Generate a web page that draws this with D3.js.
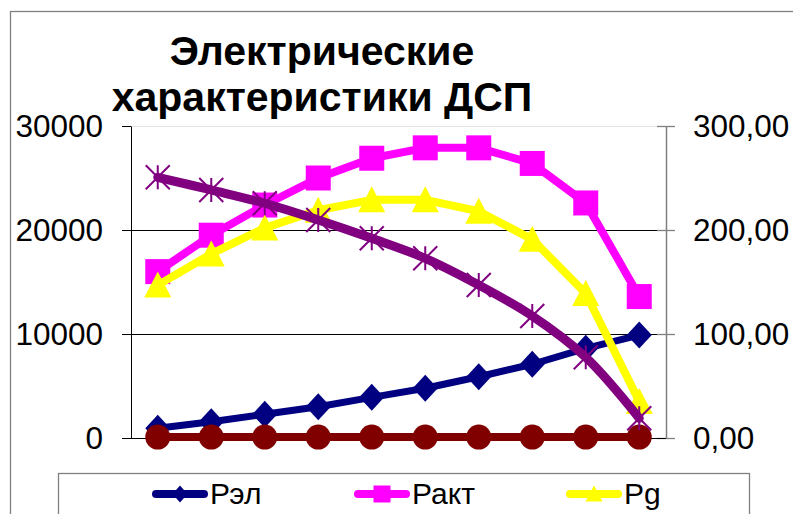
<!DOCTYPE html>
<html><head><meta charset="utf-8">
<script src="https://cdn.jsdelivr.net/npm/d3@7"></script>
<style>
html,body{margin:0;padding:0;background:#fff;}
svg{display:block;font-family:"Liberation Sans",Arial,sans-serif;}
</style></head>
<body><svg id="c" width="793" height="514"></svg>
<script>
const categories = [1,2,3,4,5,6,7,8,9,10];
const pEl   = [930, 1570, 2280, 3010, 3910, 4780, 5890, 7090, 8620, 9900];
const pAkt  = [16000, 19500, 22400, 25000, 26900, 27900, 27900, 26400, 22600, 13600];
const pG    = [14700, 17700, 20200, 21900, 22900, 22900, 21800, 19100, 13900, 3500];
const sPurple = [250.7, 238.5, 225.7, 209.6, 192.0, 172.8, 147.1, 117.3, 77.6, 19.0];
const sMaroon = [0.9, 0.9, 0.9, 0.9, 0.9, 0.9, 0.9, 0.9, 0.9, 0.9];
const leftTicks = [0, 10000, 20000, 30000];
const rightTicks = [0, 100, 200, 300];
const titleLines = ["Электрические", "характеристики ДСП"];
const legendNames = ["Рэл", "Ракт", "Pg"];

const svg = d3.select("#c");
svg.append("rect").attr("width",793).attr("height",514).attr("fill","#fff");
// chart area border
svg.append("rect").attr("x",10.5).attr("y",11.5).attr("width",820).attr("height",560)
  .attr("fill","none").attr("stroke","#808080").attr("stroke-width",1.3);

const x = d3.scalePoint().domain(categories).range([131,666]).padding(0.5);
const yL = d3.scaleLinear().domain([0,30000]).range([438,126]);
const yR = d3.scaleLinear().domain([0,300]).range([438,126]);

// faint top line & gridlines
const grid = svg.append("g");
grid.selectAll("line").data(leftTicks.filter(d=>d>0)).join("line")
  .attr("x1",131).attr("x2",666)
  .attr("y1",d=>Math.round(yL(d))+0.5).attr("y2",d=>Math.round(yL(d))+0.5)
  .attr("stroke",d=>d===30000?"#e4e4e4":"#000").attr("stroke-width",1);

// axes
const fmtR = d => d3.format(".2f")(d).replace(".",",");
const gL = svg.append("g").attr("transform","translate(131,0)")
  .call(d3.axisLeft(yL).tickValues(leftTicks).tickFormat(d3.format("d")).tickSize(9).tickSizeOuter(0).tickPadding(19));
gL.selectAll("text").attr("font-size",31.5).attr("fill","#000").attr("font-family","'Liberation Sans',Arial,sans-serif");
gL.select(".domain").attr("stroke","#000");
gL.selectAll(".tick line").attr("stroke","#000");

const gR = svg.append("g").attr("transform","translate(666,0)")
  .call(d3.axisRight(yR).tickValues(rightTicks).tickFormat(fmtR).tickSize(9).tickSizeOuter(0).tickPadding(18));
gR.selectAll("text").attr("font-size",31.5).attr("fill","#000").attr("font-family","'Liberation Sans',Arial,sans-serif");
gR.select(".domain").attr("stroke","#808080").attr("stroke-width",1.5);
gR.selectAll(".tick line").attr("x1",-9).attr("stroke","#808080").attr("stroke-width",1.3);

// category axis line
svg.append("line").attr("x1",131).attr("x2",666).attr("y1",438.5).attr("y2",438.5).attr("stroke","#000");

// series
const series = [
  {vals:pEl, y:yL, color:"#000080", marker:"diamond", curve:d3.curveLinear, w:7},
  {vals:pAkt, y:yL, color:"#FF00FF", marker:"square", curve:d3.curveLinear, w:8},
  {vals:pG, y:yL, color:"#FFFF00", marker:"triangle", curve:d3.curveLinear, w:8},
  {vals:sMaroon, y:yR, color:"#800000", marker:"circle", curve:d3.curveLinear, w:8},
  {vals:sPurple, y:yR, color:"#800080", marker:"star", curve:d3.curveCatmullRom.alpha(0.5), w:9}
];

function drawMarker(g, type, color, size){
  const h = size/2;
  if(type==="diamond"){
    g.append("path").attr("d",`M0,${-h-1}L${h},0L0,${h+1}L${-h},0Z`).attr("fill",color);
  } else if(type==="square"){
    g.append("rect").attr("x",-h).attr("y",-h).attr("width",size).attr("height",size).attr("fill",color);
  } else if(type==="triangle"){
    g.append("path").attr("d",`M0,${-h-1}L${h+1},${h}L${-h-1},${h}Z`).attr("fill",color);
  } else if(type==="circle"){
    g.append("circle").attr("r",h).attr("fill",color);
  } else if(type==="star"){
    g.append("path").attr("d",`M${-h},${-h}L${h},${h}M${h},${-h}L${-h},${h}M0,${-h}L0,${h}`)
      .attr("stroke",color).attr("stroke-width",2).attr("fill","none");
  }
}

series.forEach(s=>{
  const g = svg.append("g");
  const line = d3.line().x((d,i)=>x(categories[i])).y(d=>s.y(d)).curve(s.curve);
  g.append("path").attr("d",line(s.vals)).attr("fill","none").attr("stroke",s.color)
    .attr("stroke-width",s.w).attr("stroke-linejoin","round").attr("stroke-linecap","round");
  s.vals.forEach((v,i)=>{
    const m = g.append("g").attr("transform",`translate(${x(categories[i])},${s.y(v)})`);
    drawMarker(m, s.marker, s.color, s.marker==="star"?24:25);
  });
});

// title
svg.append("g").selectAll("text").data(titleLines).join("text")
  .attr("x",322).attr("y",(d,i)=>65+i*46).attr("text-anchor","middle")
  .attr("font-size",41).attr("font-weight","bold").attr("fill","#000").text(d=>d);

// legend
svg.append("rect").attr("x",58.5).attr("y",473.5).attr("width",691).attr("height",80)
  .attr("fill","#fff").attr("stroke","#808080").attr("stroke-width",1.3);
const legX = [152, 354, 566];
const legMarkers = [["diamond",15],["square",17],["triangle",15]];
legendNames.forEach((name,i)=>{
  const s = series[i];
  const g = svg.append("g");
  g.append("line").attr("x1",legX[i]+4).attr("x2",legX[i]+52).attr("y1",494).attr("y2",494)
    .attr("stroke",s.color).attr("stroke-width",8).attr("stroke-linecap","round");
  const m = g.append("g").attr("transform",`translate(${legX[i]+28},494)`);
  drawMarker(m, legMarkers[i][0], s.color, legMarkers[i][1]);
  g.append("text").attr("x",legX[i]+58).attr("y",504).attr("font-size",30).attr("fill","#000").text(name);
});
</script>
</body></html>
